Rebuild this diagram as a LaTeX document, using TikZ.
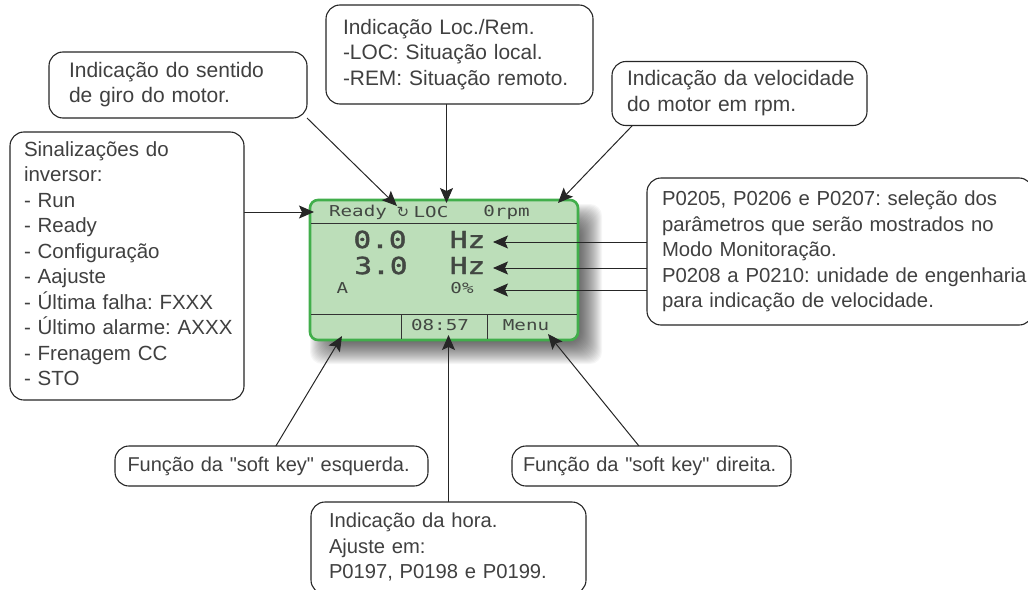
\documentclass[tikz,border=0pt]{standalone}
\usepackage{fontspec}
\usepackage{graphicx}
\setmainfont{Liberation Sans}[Ligatures=TeXOff]
\newfontfamily\lcdfont{DejaVu Sans Mono}
\newfontfamily\lcdbig{DejaVu Sans Mono}[FakeBold=1.5]
\newfontfamily\symfont{DejaVu Sans}
\usetikzlibrary{arrows.meta,calc}
\pgfdeclarelayer{lcdlayer}
\pgfdeclarelayer{connlayer}
\pgfsetlayers{lcdlayer,connlayer,main}
\definecolor{txtgray}{HTML}{404040}
\definecolor{lcdgreen}{HTML}{BCDEB9}
\definecolor{lcdedge}{HTML}{41AE4B}
\definecolor{lcdink}{HTML}{424742}
\frenchspacing
\hbadness=10000 \hfuzz=200pt
\newcommand{\lcdS}[1]{\scalebox{1.28}[1]{\fontsize{15}{15}\lcdfont #1}}
\newcommand{\lcdL}[1]{\scalebox{1.25}[1]{\fontsize{23.5}{24}\lcdbig #1}}
\newcommand{\ctext}[1]{\begin{tabular}{@{}l@{}}#1\end{tabular}}
\tikzset{
  callout/.style={draw=black!85,line width=1.1pt,fill=white,rounded corners=14pt,
    align=left,text=txtgray,font=\fontsize{#1}{25.5}\selectfont,
    inner ysep=0pt,outer sep=0pt},
  conn/.style={draw=black!85,line width=1pt,-{Stealth[length=15pt,width=13pt,inset=3pt]}},
  lcdtxt/.style={text=lcdink,inner sep=0pt,anchor=center},
  lcdline/.style={draw=black!80,line width=1pt}
}
\begin{document}
\begin{tikzpicture}[x=1pt,y=-1pt]
\useasboundingbox (0,0) rectangle (1028,589);
\clip (0,0) rectangle (1028,589);
% callouts
\node[callout=21,minimum width=258pt,minimum height=66pt,text width=218pt,inner xsep=20pt] (sentido) at (178,85)
  {\ctext{Indicação do sentido\\de giro do motor.}};
\node[callout=20.9,minimum width=267pt,minimum height=99pt,text width=233pt,inner xsep=17pt] (loc) at (459.5,54.5)
  {\ctext{Indicação Loc./Rem.\\-LOC: Situação local.\\-REM: Situação remoto.}};
\node[callout=21,minimum width=255pt,minimum height=64pt,text width=225pt,inner xsep=15pt] (vel) at (739.5,93.5)
  {\ctext{Indicação da velocidade\\do motor em rpm.}};
\node[callout=20.5,minimum width=234pt,minimum height=268pt,text width=206pt,inner xsep=14pt] (sinal) at (127,266)
  {\ctext{Sinalizações do\\inversor:\\- Run\\- Ready\\- Configuração\\- Aajuste\\- Última falha: FXXX\\- Último alarme: AXXX\\- Frenagem CC\\- STO}};
\node[callout=20.3,minimum width=386pt,minimum height=147pt,text width=356pt,inner xsep=15pt] (param) at (840,251.5)
  {\ctext{P0205, P0206 e P0207: seleção dos\\parâmetros que serão mostrados no\\Modo Monitoração.\\P0208 a P0210: unidade de engenharia\\para indicação de velocidade.}};
\node[callout=20,minimum width=313pt,minimum height=40pt,text width=296pt,inner xsep=8.5pt] (esq) at (271.5,466)
  {\hspace*{4pt}\ctext{Função da "soft key" esquerda.}};
\node[callout=20,minimum width=279pt,minimum height=40pt,text width=262pt,inner xsep=8.5pt] (dir) at (651.5,466)
  {\hspace*{2.5pt}\ctext{Função da "soft key" direita.}};
\node[callout=20.2,minimum width=275pt,minimum height=92pt,text width=239pt,inner xsep=18pt] (hora) at (448.5,548)
  {\ctext{Indicação da hora.\\Ajuste em:\\P0197, P0198 e P0199.}};
% display
\begin{pgfonlayer}{lcdlayer}
  \foreach \i in {0,...,23}{
    \fill[black,opacity=0.036,rounded corners=12pt]
      (310+\i,204+\i) rectangle (578+24-\i,340+24-\i);
  }
  \node[draw=lcdedge,fill=lcdgreen,line width=2.6pt,rounded corners=8pt,
    minimum width=268pt,minimum height=140pt,inner sep=0pt] (lcd) at (444,270) {};
  \draw[lcdline] (311,223) -- (577,223);
  \draw[lcdline] (311,314) -- (577,314);
  \draw[lcdline] (401,314) -- (401,339);
  \draw[lcdline] (487,314) -- (487,339);
  \node[lcdtxt] (tready) at (358,212) {\lcdS{Ready}};
  \node[lcdtxt] (tgiro) at (403,212.5) {\fontsize{15}{15}\symfont ↻};
  \node[lcdtxt] (tloc) at (431,212) {\lcdS{LOC}};
  \node[lcdtxt] (trpm) at (506.5,212) {\lcdS{0rpm}};
  \node[lcdtxt] (tv1) at (380,239.5) {\lcdL{0.0}};
  \node[lcdtxt] (tu1) at (467.5,239.5) {\lcdL{Hz}};
  \node[lcdtxt] (tv2) at (381,265.5) {\lcdL{3.0}};
  \node[lcdtxt] (tu2) at (467.5,265.5) {\lcdL{Hz}};
  \node[lcdtxt] (ta) at (342.5,288.5) {\lcdS{A}};
  \node[lcdtxt] (tp) at (462,288.5) {\lcdS{0\%}};
  \node[lcdtxt] (tclock) at (440,325) {\lcdS{08:57}};
  \node[lcdtxt] (tmenu) at (526,325) {\lcdS{Menu}};
\end{pgfonlayer}
% arrow targets
\coordinate (aSent) at (397,206);
\coordinate (aLoc) at (446.5,203);
\coordinate (aVel) at (558,203);
\coordinate (aSin) at (314,212);
\coordinate (aP1) at (493,242);
\coordinate (aP2) at (493,268);
\coordinate (aP3) at (493,290);
\coordinate (aEsq) at (342,336);
\coordinate (aHora) at (448.5,335);
\coordinate (aDir) at (548,334);
\begin{pgfonlayer}{connlayer}
  \draw[conn] (sentido.south east) -- (aSent);
  \draw[conn] (aLoc |- loc.south) -- (aLoc);
  \draw[conn] ($(vel.south west)!0.08!(vel.south east)$) -- (aVel);
  \draw[conn] (sinal.east |- aSin) -- (aSin);
  \draw[conn] (param.west |- aP1) -- (aP1);
  \draw[conn] (param.west |- aP2) -- (aP2);
  \draw[conn] (param.west |- aP3) -- (aP3);
  \draw[conn] ($(esq.north west)!0.514!(esq.north east)$) -- (aEsq);
  \draw[conn] (aHora |- hora.north) -- (aHora);
  \draw[conn] ($(dir.north west)!0.455!(dir.north east)$) -- (aDir);
\end{pgfonlayer}
\end{tikzpicture}
\end{document}
